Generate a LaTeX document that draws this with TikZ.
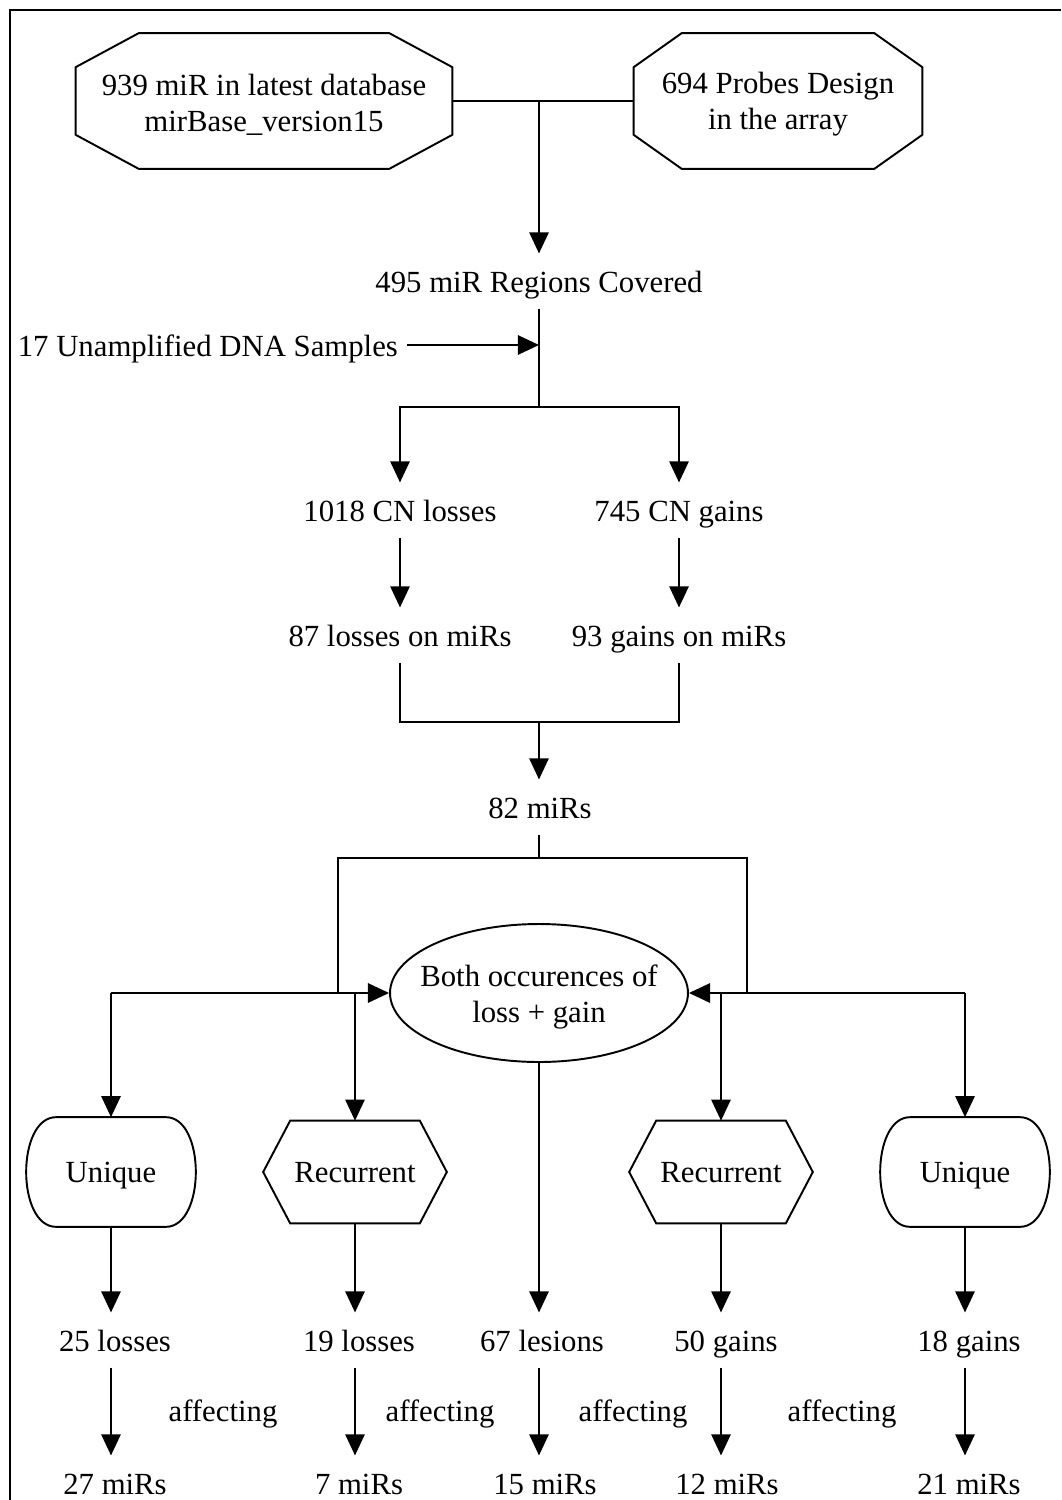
\documentclass[tikz,border=0pt]{standalone}
\usepackage{fontspec}
\setmainfont{Liberation Serif}
\usetikzlibrary{arrows.meta,calc,shapes.geometric}

\newcommand{\ftxt}{\fontsize{17.5}{20.5}\selectfont}
% outlines drawn round plain nodes
\newcommand{\chamferbox}[3]{%
  \draw[ln] ($(#1.north west)+(0,#3)$) -- ($(#1.north west)+(#2,0)$)
    -- ($(#1.north east)+(-#2,0)$) -- ($(#1.north east)+(0,#3)$)
    -- ($(#1.south east)+(0,-#3)$) -- ($(#1.south east)+(-#2,0)$)
    -- ($(#1.south west)+(#2,0)$) -- ($(#1.south west)+(0,-#3)$) -- cycle;}
\newcommand{\hexbox}[2]{%
  \draw[ln] (#1.west) -- ($(#1.north west)+(#2,0)$) -- ($(#1.north east)+(-#2,0)$)
    -- (#1.east) -- ($(#1.south east)+(-#2,0)$) -- ($(#1.south west)+(#2,0)$) -- cycle;}
\newcommand{\bulgebox}[1]{%
  \draw[ln] ($(#1.north west)+(30,0)$) -- ($(#1.north east)+(-30,0)$)
    .. controls ($(#1.north east)+(10,0)$) and ($(#1.south east)+(10,0)$) .. ($(#1.south east)+(-30,0)$)
    -- ($(#1.south west)+(30,0)$)
    .. controls ($(#1.south west)+(-10,0)$) and ($(#1.north west)+(-10,0)$) .. ($(#1.north west)+(30,0)$) -- cycle;}

\begin{document}
\begin{tikzpicture}[x=0.02cm, y=-0.02cm,
    ln/.style={line width=1.1pt},
    arr/.style={ln, -{Triangle[length=12pt,width=11pt]}},
    txt/.style={font=\ftxt, text height=17pt, text depth=4pt, inner xsep=5pt, inner ysep=5pt},
    shp/.style={font=\ftxt, align=center, inner sep=0pt},
    one/.style={shp, text height=11.5pt, text depth=0pt}]
        \useasboundingbox (0,0) rectangle (1061,1500);
        \draw[line width=1.7pt] (1061,10) -- (10,10) -- (10,1500);

        % top sources
        \node[shp, minimum width=7.52cm, minimum height=2.7cm,
            label={[shp, yshift=-2pt]center:{939 miR in latest database\\mirBase\_version15}}] (db) at (264,101) {};
        \node[shp, minimum width=5.76cm, minimum height=2.7cm,
            label={[shp, yshift=-2pt]center:{694 Probes Design\\in the array}}] (probes) at (778,101) {};
        \chamferbox{db}{63}{34}
        \chamferbox{probes}{48}{34}
        \node[txt] (covered) at (539,281) {495 miR Regions Covered};
        \node[txt, anchor=east] (samples) at (407,345) {17 Unamplified DNA Samples};
        \coordinate (split) at (539,407);

        \draw[ln] (db.east) -- (probes.west);
        \draw[arr] (db.east -| covered) -- (covered.north);
        \draw[arr] (samples.east) -- (samples.east -| covered);
        \draw[ln] (covered.south) -- (split);

        % losses and gains
        \node[txt] (loss) at (400,510) {1018 CN losses};
        \node[txt] (gain) at (679,510) {745 CN gains};
        \node[txt] (lossmir) at (400,635) {87 losses on miRs};
        \node[txt] (gainmir) at (679,635) {93 gains on miRs};
        \node[txt] (mirs) at (540,807) {82 miRs};
        \coordinate (merge) at (539,722);
        \coordinate (fork) at (539,858);

        \draw[arr] (split) -| (loss.north);
        \draw[arr] (split) -| (gain.north);
        \draw[arr] (loss) -- (lossmir);
        \draw[arr] (gain) -- (gainmir);
        \draw[ln] (lossmir.south) |- (merge) -| (gainmir.south);
        \draw[arr] (merge) -- (mirs.north -| merge);

        % both occurences
        \node[draw, ln, ellipse, inner sep=0pt, minimum width=5.96cm, minimum height=2.76cm,
            label={[shp, yshift=-2pt]center:{Both occurences of\\loss + gain}}] (both) at (539,993) {};
        \coordinate (forkL) at (338,993);
        \coordinate (forkR) at (747,993);
        \draw[ln] (mirs.south -| fork) -- (fork) -| (forkL);
        \draw[ln] (fork) -| (forkR);

        \node[one, minimum width=3.38cm, minimum height=2.18cm] (uniqL) at (111,1172) {Unique};
        \node[one, minimum width=3.66cm, minimum height=2.04cm] (recL) at (355,1172) {Recurrent};
        \node[one, minimum width=3.66cm, minimum height=2.04cm] (recR) at (721,1172) {Recurrent};
        \node[one, minimum width=3.38cm, minimum height=2.18cm] (uniqR) at (965,1172) {Unique};
        \bulgebox{uniqL}
        \hexbox{recL}{27}
        \hexbox{recR}{27}
        \bulgebox{uniqR}

        \draw[arr] (uniqL.north |- both.west) -- (both.west);
        \draw[arr] (uniqL.north |- both.west) -- (uniqL.north);
        \draw[arr] (recL.north |- both.west) -- (recL.north);
        \draw[arr] (uniqR.north |- both.east) -- (both.east);
        \draw[arr] (uniqR.north |- both.east) -- (uniqR.north);
        \draw[arr] (recR.north |- both.east) -- (recR.north);

        % counts
        \node[txt] (l25) at (115,1340) {25 losses};
        \node[txt] (l19) at (359,1340) {19 losses};
        \node[txt] (les67) at (542,1340) {67 lesions};
        \node[txt] (g50) at (726,1340) {50 gains};
        \node[txt] (g18) at (969,1340) {18 gains};
        \node[txt] (aff1) at (223,1410) {affecting};
        \node[txt] (aff2) at (440,1410) {affecting};
        \node[txt] (aff3) at (633,1410) {affecting};
        \node[txt] (aff4) at (842,1410) {affecting};
        \node[txt] (m27) at (115,1483) {27 miRs};
        \node[txt] (m7) at (359,1483) {7 miRs};
        \node[txt] (m15) at (545,1483) {15 miRs};
        \node[txt] (m12) at (727,1483) {12 miRs};
        \node[txt] (m21) at (969,1483) {21 miRs};

        \draw[arr] (uniqL.south) -- (uniqL.south |- l25.north);
        \draw[arr] (recL.south) -- (recL.south |- l19.north);
        \draw[arr] (both.south) -- (both.south |- les67.north);
        \draw[arr] (recR.south) -- (recR.south |- g50.north);
        \draw[arr] (uniqR.south) -- (uniqR.south |- g18.north);
        \draw[arr] (uniqL.south |- l25.south) -- (uniqL.south |- m27.north);
        \draw[arr] (recL.south |- l19.south) -- (recL.south |- m7.north);
        \draw[arr] (both.south |- les67.south) -- (both.south |- m15.north);
        \draw[arr] (recR.south |- g50.south) -- (recR.south |- m12.north);
        \draw[arr] (uniqR.south |- g18.south) -- (uniqR.south |- m21.north);
    \end{tikzpicture}
\end{document}
